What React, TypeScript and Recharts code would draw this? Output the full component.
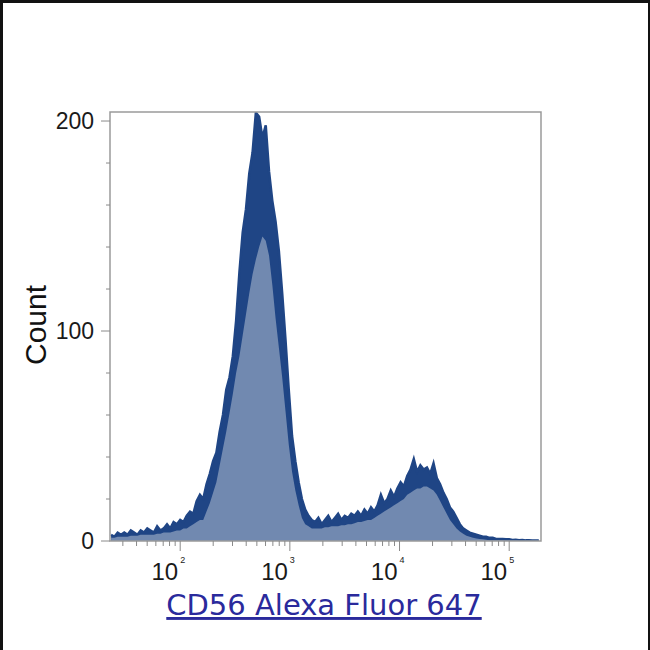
import React from "react";
import { ComposedChart, Area, XAxis, YAxis, ReferenceArea } from "recharts";

// Histogram bins on a log10 intensity axis
const BIN_START = 1.37;
const BIN_STEP = 0.03;

// Outer (dark) noisy histogram counts
const darkCounts = [
  3, 2, 4, 3, 4, 3, 5, 4, 3, 5, 4, 6, 5, 4, 7, 5, 6, 8,
  6, 9, 8, 10, 9, 12, 14, 13, 19, 22, 20, 27, 32, 38, 42, 52, 60, 72, 78, 88,
  105, 128, 147, 158, 175, 185, 204, 202, 192, 198, 176, 162, 152, 138, 118, 96,
  72, 50, 38, 28, 20, 15, 12, 10,
  9, 11, 8, 10, 12, 9, 11, 13, 10, 12, 11,
  13, 12, 14, 12, 15, 13, 16, 14, 17, 22, 18, 20, 24, 21, 25, 28, 26, 31, 34, 39,
  33, 36, 34, 35, 32, 37, 30, 27, 23, 20, 16, 14, 11, 8, 6, 5, 4, 3.5, 3, 2.5, 2, 2,
  1.5, 1.5, 1, 1, 1, 0.8, 0.8, 0.5, 0.6, 0.4, 0.5, 0.3, 0.3, 0.2, 0.2, 0.2,
];

// Inner (light) smoother histogram counts
const lightCounts = [
  1.5, 1.5, 2, 2, 2, 2, 2.5, 2.5, 2.5, 3, 3, 3, 3, 3, 3.5, 3.5, 4, 4,
  4, 4.5, 5, 5, 6, 6, 7, 8, 9, 10, 10, 14, 18, 23, 28, 36, 44, 52, 61, 70,
  80, 88, 98, 108, 118, 127, 134, 140, 145, 143, 136, 122, 106, 92, 78, 62,
  46, 33, 24, 17, 11, 8, 7, 6,
  6, 6, 6, 6.5, 6.5, 7, 7, 7, 7.5, 7.5, 8,
  8, 8.5, 9, 9, 9.5, 10, 10, 11, 12, 13, 14, 15, 16, 17, 18, 19, 20, 22, 23, 24,
  25, 25, 26, 26, 25, 24, 22, 19, 16, 13, 10, 8, 6, 4.5, 3.5, 2.5, 2, 1.5, 1.2, 1, 0.8, 0.6,
  0.4, 0.4, 0.3, 0.3, 0.3, 0.2, 0.2, 0.2, 0.2, 0.1, 0.1, 0.1, 0.1, 0.1, 0.1, 0.1,
];

const yTicks = [0, 20, 40, 60, 80, 100, 120, 140, 160, 180, 200];
const yLabelTicks = [0, 100, 200];

const X_MIN = 1.36;
const X_MAX = 5.29;
const Y_MAX = 204.3;

const data = darkCounts.map((d, i) => ({
  x: BIN_START + i * BIN_STEP,
  dark: d,
  light: lightCounts[i],
}));

// log minor ticks
const xTicks: number[] = [];
for (let dec = 1; dec <= 5; dec++) {
  for (let k = 1; k <= 9; k++) {
    const v = dec + Math.log10(k);
    if (v >= X_MIN && v <= X_MAX) xTicks.push(v);
  }
}

const XTick = (props: any) => {
  const { x, y, payload } = props;
  const v = payload.value;
  const isMajor = Math.abs(v - Math.round(v)) < 1e-6;
  return (
    <g>
      <line x1={x} x2={x} y1={y} y2={y + (isMajor ? 10 : 5)} stroke="#8a8a8a" strokeWidth={1} />
      {isMajor && (
        <>
          <text x={x - 2} y={y + 39} textAnchor="end" fontFamily="Liberation Sans, Arial, sans-serif" fontSize={24} fill="#1a1a1a">
            10
          </text>
          <text x={x} y={y + 22} textAnchor="start" fontFamily="Liberation Sans, Arial, sans-serif" fontSize={9} fill="#1a1a1a">
            {Math.round(v)}
          </text>
        </>
      )}
    </g>
  );
};

const YTick = (props: any) => {
  const { x, y, payload } = props;
  const v = payload.value;
  const isMajor = yLabelTicks.includes(v);
  return (
    <g>
      <line x1={x - (isMajor ? 9 : 4)} x2={x} y1={y} y2={y} stroke="#8a8a8a" strokeWidth={1} />
      {isMajor && (
        <text x={x - 16} y={y + 8} textAnchor="end" fontFamily="Liberation Sans, Arial, sans-serif" fontSize={23} fill="#1a1a1a">
          {v}
        </text>
      )}
    </g>
  );
};

export default function App() {
  return (
    <div style={{ position: "absolute", left: 0, top: 0, width: 650, height: 650, background: "#fff", overflow: "hidden" }}>
      <ComposedChart
        width={650}
        height={650}
        data={data}
        margin={{ top: 112, right: 109, bottom: 49, left: 50 }}
      >
        <XAxis
          dataKey="x"
          type="number"
          domain={[X_MIN, X_MAX]}
          ticks={xTicks}
          interval={0}
          tick={(p: any) => <XTick {...p} />}
          tickLine={false}
          tickSize={0}
          tickMargin={0}
          axisLine={false}
          height={60}
          allowDataOverflow
        />
        <YAxis
          type="number"
          domain={[0, Y_MAX]}
          ticks={yTicks}
          interval={0}
          tick={(p: any) => <YTick {...p} />}
          tickLine={false}
          tickSize={0}
          tickMargin={0}
          axisLine={false}
          width={60}
          allowDataOverflow
        />
        <Area
          type="linear"
          dataKey="dark"
          fill="#1f4585"
          fillOpacity={1}
          stroke="#1f4585"
          strokeWidth={2.5}
          isAnimationActive={false}
          dot={false}
          activeDot={false}
        />
        <Area
          type="linear"
          dataKey="light"
          fill="#7189b0"
          fillOpacity={1}
          stroke="none"
          isAnimationActive={false}
          dot={false}
          activeDot={false}
        />
        <ReferenceArea x1={X_MIN} x2={X_MAX} y1={0} y2={Y_MAX} fill="none" stroke="#9a9a9a" strokeWidth={1.5} ifOverflow="visible" />
      </ComposedChart>
      <svg width={650} height={650} style={{ position: "absolute", left: 0, top: 0, pointerEvents: "none" }}>
        <rect x={0} y={0} width={650} height={3} fill="#111" />
        <rect x={0} y={0} width={3} height={650} fill="#111" />
        <rect x={648} y={0} width={2} height={650} fill="#111" />
        <text
          x={35}
          y={325}
          transform="rotate(-90 35 325)"
          textAnchor="middle"
          dominantBaseline="central"
          fontFamily="Liberation Sans, Arial, sans-serif"
          fontSize={30}
          fill="#111"
        >
          Count
        </text>
        <text
          x={324}
          y={615}
          textAnchor="middle"
          fontFamily="DejaVu Sans, Verdana, sans-serif"
          fontSize={29}
          fill="#2a2a9c"
          style={{ textDecoration: "underline" }}
        >
          CD56 Alexa Fluor 647
        </text>
      </svg>
    </div>
  );
}
